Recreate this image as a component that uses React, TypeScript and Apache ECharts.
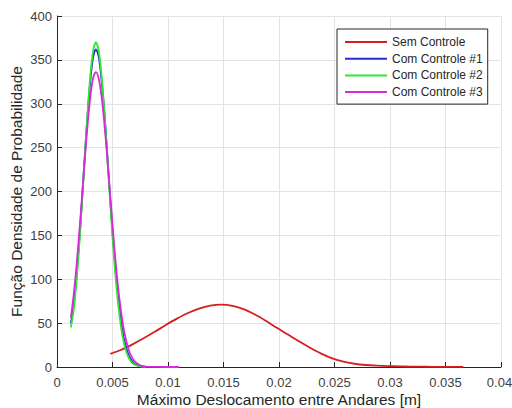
import React, { useEffect, useRef } from "react";
import * as echarts from "echarts";

const seriesNames = ["Sem Controle", "Com Controle #1", "Com Controle #2", "Com Controle #3"];
const seriesColors = ["#d61e1e", "#2b2bd6", "#2ee82e", "#d82ad8"];

const redX = [0.0048, 0.0058, 0.0068, 0.0078, 0.0088, 0.0098, 0.0108, 0.0118, 0.0128, 0.0138, 0.0148, 0.0158, 0.0168, 0.0178, 0.0188, 0.0198, 0.0208, 0.0218, 0.0228, 0.0238, 0.0248, 0.0258, 0.0268, 0.0278, 0.0288, 0.0298, 0.0308, 0.0318, 0.0328, 0.0338, 0.0348, 0.0358, 0.0366];
const redY = [15, 19.7, 25.8, 32.7, 40.1, 47.8, 55.1, 61.6, 66.6, 69.9, 71, 69.7, 65.9, 60.1, 52.8, 44.7, 37, 29.3, 22, 15.3, 9.8, 6, 3.7, 2.3, 1.5, 1, 0.7, 0.5, 0.35, 0.25, 0.18, 0.12, 0.1];

const ctrlX = [0.00125, 0.0015, 0.00175, 0.002, 0.00225, 0.0025, 0.00275, 0.003, 0.00325, 0.0035, 0.00375, 0.004, 0.00425, 0.0045, 0.00475, 0.005, 0.00525, 0.0055, 0.00575, 0.006, 0.00625, 0.0065, 0.00675, 0.007, 0.0075, 0.008, 0.009, 0.01, 0.011];
const ctrl1Y = [50, 69, 102, 143, 190, 240, 287, 326, 353, 362, 354, 329, 293, 248, 200, 155, 114, 80, 53, 34, 21, 12, 6.7, 3.5, 0.9, 0.2];
const ctrl2Y = [45, 65, 97, 138, 187, 239, 289, 332, 360, 370, 361, 334, 294, 247, 196, 148, 107, 73, 47, 29, 17, 9.6, 5.1, 2.6, 0.6, 0.1];
const ctrl3Y = [56, 82, 114, 152, 193, 236, 275, 308, 329, 336, 329, 310, 280, 243, 202, 162, 124, 91, 65, 44, 29, 18, 11, 6.3, 1.9, 0.5, 0.1, 0.02, 0];

const xTitle = "Máximo Deslocamento entre Andares [m]";
const yTitle = "Função Densidade de Probabilidade";

const FONT = "'Liberation Sans', Arial, sans-serif";

function pairs(xs: number[], ys: number[]) {
  return ys.map((y, i) => [xs[i], y]);
}

export default function App() {
  const ref = useRef<HTMLDivElement>(null);
  useEffect(() => {
    if (!ref.current) return;
    const chart = echarts.init(ref.current, null, { renderer: "svg" });
    const datasets = [pairs(redX, redY), pairs(ctrlX, ctrl1Y), pairs(ctrlX, ctrl2Y), pairs(ctrlX, ctrl3Y)];
    chart.setOption({
      animation: false,
      backgroundColor: "#ffffff",
      grid: { left: 57, right: 11, top: 16, bottom: 41, containLabel: false, outerBoundsMode: "none" },
      legend: {
        orient: "vertical",
        left: 337,
        top: 29,
        data: seriesNames,
        icon: "rect",
        itemWidth: 42,
        itemHeight: 2,
        itemGap: 2.7,
        padding: [6, 5, 5, 8],
        backgroundColor: "#ffffff",
        borderColor: "#262626",
        borderWidth: 1,
        textStyle: { fontFamily: FONT, fontSize: 12, color: "#262626", lineHeight: 14 },
      },
      xAxis: {
        type: "value",
        min: 0,
        max: 0.04,
        interval: 0.005,
        name: xTitle,
        nameLocation: "middle",
        nameGap: 24,
        nameMoveOverlap: false,
        nameTextStyle: { fontFamily: FONT, fontSize: 15.5, color: "#262626" },
        axisLine: { show: true, onZero: false, lineStyle: { color: "#262626", width: 1 } },
        axisTick: { show: true, inside: true, length: 5, lineStyle: { color: "#262626" } },
        axisLabel: {
          fontFamily: FONT,
          fontSize: 13,
          color: "#404040",
          margin: 9,
          formatter: (v: number) => {
            const s = String(+v.toFixed(3));
            return v >= 0.04 ? "{last|" + s + "}" : s;
          },
          rich: {
            last: { fontFamily: FONT, fontSize: 13, color: "#404040", padding: [0, 3, 0, 0] },
          },
        },
        splitLine: { show: true, lineStyle: { color: "#e3e3e3", width: 1 } },
      },
      yAxis: {
        type: "value",
        min: 0,
        max: 400,
        interval: 50,
        name: yTitle,
        nameLocation: "middle",
        nameGap: 33,
        nameMoveOverlap: false,
        nameTextStyle: { fontFamily: FONT, fontSize: 15.5, color: "#262626" },
        axisLine: { show: true, lineStyle: { color: "#262626", width: 1 } },
        axisTick: { show: true, inside: true, length: 5, lineStyle: { color: "#262626" } },
        axisLabel: { fontFamily: FONT, fontSize: 13, color: "#404040", margin: 5 },
        splitLine: { show: true, lineStyle: { color: "#e3e3e3", width: 1 } },
      },
      series: seriesNames.map((name, i) => ({
        name,
        type: "line",
        data: datasets[i],
        showSymbol: false,
        symbol: "none",
        smooth: 0.3,
        color: seriesColors[i],
        lineStyle: { color: seriesColors[i], width: 1.8 },
      })),
    });
    return () => chart.dispose();
  }, []);
  return (
    <div
      ref={ref}
      style={{ position: "fixed", left: 0, top: 0, width: 512, height: 408, background: "#fff" }}
    />
  );
}
